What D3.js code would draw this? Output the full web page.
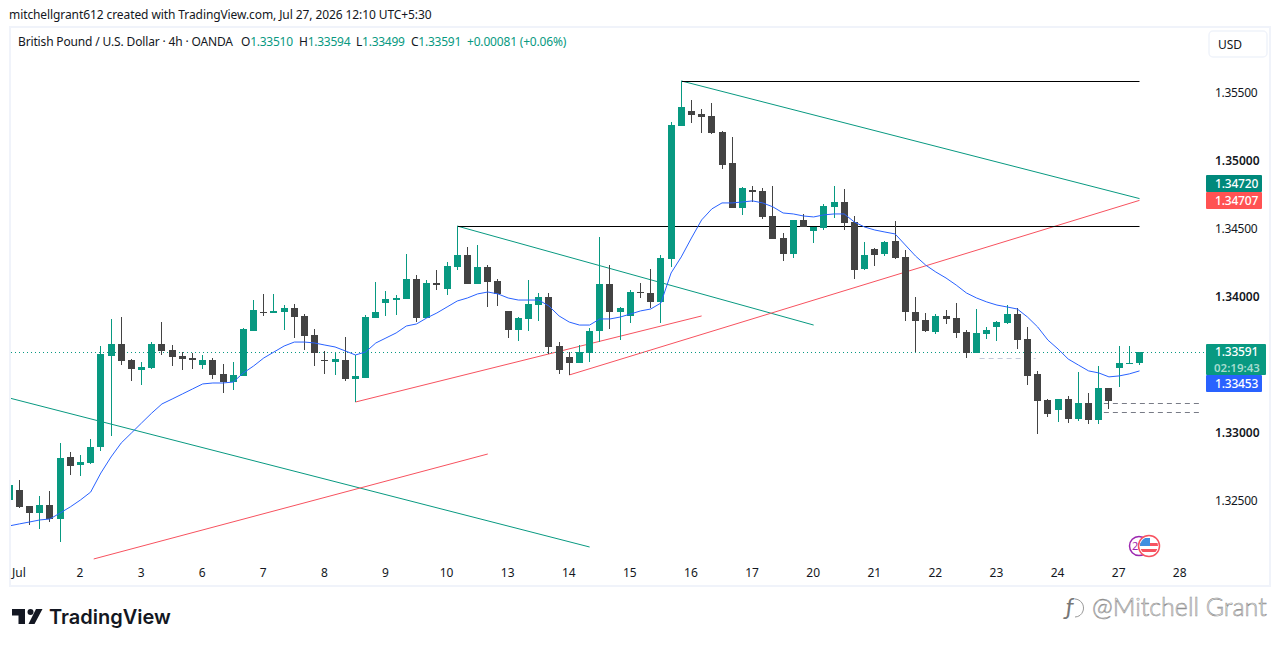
<!DOCTYPE html>
<html>
<head>
<meta charset="utf-8">
<script src="https://cdn.jsdelivr.net/npm/d3@7/dist/d3.min.js"></script>
<style>
  body { margin: 0; background: #fff; }
  text { font-family: "Noto Sans", sans-serif; }
</style>
</head>
<body>
<svg width="1281" height="647"></svg>
<script>
// GBPUSD 4h candles
var opens = [1.32504,1.32577,1.32459,1.32408,1.32467,1.32364,1.32820,1.32761,1.32775,1.32893,1.33563,1.33651,1.33533,1.33460,1.33474,1.33651,1.33607,1.33563,1.33548,1.33496,
  1.33533,1.33430,1.33371,1.33416,1.33746,1.33886,1.33879,1.33886,1.33915,1.33857,1.33717,1.33533,1.33518,1.33533,1.33394,1.33401,1.33842,1.33952,1.33974,1.33981,
  1.34129,1.33842,1.34099,1.34055,1.34217,1.34305,1.34092,1.34217,1.34114,1.33893,1.33754,1.33835,1.33937,1.33996,1.33636,1.33555,1.33511,1.33585,1.33746,1.34092,
  1.33886,1.33857,1.34033,1.34026,1.33959,1.34276,1.35254,1.35364,1.35342,1.35327,1.35209,1.34982,1.34650,1.34783,1.34776,1.34592,1.34430,1.34312,1.34563,1.34481,
  1.34503,1.34658,1.34695,1.34548,1.34202,1.34349,1.34312,1.34408,1.34290,1.33886,1.33827,1.33739,1.33857,1.33842,1.33739,1.33585,1.33724,1.33776,1.33805,1.33871,
  1.33687,1.33430,1.33239,1.33165,1.33246,1.33099,1.33217,1.33092,1.33327,1.33474,1.33504,1.33510];
var highs = [1.32614,1.32651,1.32459,1.32533,1.32570,1.32923,1.32856,1.32834,1.32952,1.33636,1.33835,1.33849,1.33540,1.33518,1.33665,1.33812,1.33643,1.33592,1.33585,1.33570,
  1.33548,1.33504,1.33518,1.33768,1.33974,1.34018,1.34018,1.33937,1.33945,1.33871,1.33761,1.33600,1.33592,1.33702,1.33570,1.33864,1.34107,1.34040,1.34011,1.34312,
  1.34158,1.34121,1.34195,1.34253,1.34518,1.34364,1.34379,1.34231,1.34129,1.33893,1.33849,1.34121,1.34026,1.34026,1.33665,1.33592,1.33643,1.33768,1.34437,1.34231,
  1.33923,1.34048,1.34099,1.34202,1.34305,1.35283,1.35585,1.35445,1.35379,1.35423,1.35217,1.35173,1.34805,1.34812,1.34798,1.34812,1.34467,1.34563,1.34606,1.34511,
  1.34680,1.34812,1.34790,1.34592,1.34401,1.34356,1.34408,1.34555,1.34342,1.33996,1.33879,1.33871,1.33901,1.33952,1.33754,1.33908,1.33776,1.33820,1.33937,1.33915,
  1.33776,1.33452,1.33246,1.33246,1.33268,1.33445,1.33290,1.33489,1.33327,1.33636,1.33636,1.33594];
var lows = [1.32504,1.32445,1.32320,1.32290,1.32342,1.32195,1.32687,1.32680,1.32768,1.32864,1.32974,1.33496,1.33379,1.33349,1.33467,1.33570,1.33489,1.33460,1.33467,1.33467,
  1.33394,1.33290,1.33312,1.33416,1.33746,1.33857,1.33879,1.33754,1.33695,1.33607,1.33489,1.33430,1.33423,1.33379,1.33224,1.33401,1.33842,1.33857,1.33864,1.33981,
  1.33812,1.33842,1.34048,1.34011,1.34195,1.34092,1.34092,1.33923,1.33930,1.33695,1.33673,1.33746,1.33820,1.33577,1.33430,1.33423,1.33511,1.33518,1.33665,1.33761,
  1.33680,1.33805,1.33989,1.33915,1.33805,1.34217,1.35254,1.35276,1.35202,1.35195,1.34937,1.34650,1.34599,1.34695,1.34570,1.34423,1.34261,1.34283,1.34511,1.34393,
  1.34489,1.34577,1.34489,1.34129,1.34195,1.34224,1.34298,1.34276,1.33820,1.33592,1.33739,1.33724,1.33798,1.33695,1.33548,1.33585,1.33687,1.33673,1.33798,1.33614,
  1.33349,1.32989,1.33114,1.33077,1.33070,1.33084,1.33062,1.33062,1.33173,1.33334,1.33504,1.33499];
var closes = [1.32614,1.32452,1.32408,1.32467,1.32364,1.32812,1.32753,1.32783,1.32893,1.33577,1.33651,1.33526,1.33467,1.33482,1.33651,1.33600,1.33555,1.33540,1.33533,1.33533,
  1.33423,1.33371,1.33423,1.33761,1.33901,1.33879,1.33893,1.33915,1.33849,1.33710,1.33585,1.33526,1.33540,1.33394,1.33416,1.33849,1.33886,1.33981,1.33989,1.34129,
  1.33842,1.34099,1.34085,1.34224,1.34305,1.34092,1.34217,1.34107,1.34018,1.33754,1.33842,1.33945,1.33996,1.33629,1.33460,1.33511,1.33592,1.33746,1.34092,1.33886,
  1.33915,1.34033,1.34026,1.33959,1.34283,1.35261,1.35393,1.35335,1.35320,1.35202,1.34967,1.34650,1.34798,1.34768,1.34585,1.34423,1.34312,1.34563,1.34511,1.34511,
  1.34665,1.34695,1.34540,1.34195,1.34305,1.34305,1.34401,1.34283,1.33886,1.33820,1.33746,1.33857,1.33835,1.33732,1.33585,1.33732,1.33754,1.33812,1.33871,1.33680,
  1.33416,1.33231,1.33136,1.33246,1.33099,1.33217,1.33092,1.33327,1.33231,1.33511,1.33511,1.33591];
// moving average, one value per bar
var maValues = [1.32313,1.32328,1.32342,1.32357,1.32364,1.32408,1.32453,1.32504,1.32562,1.32702,1.32820,1.32923,1.32996,1.33070,1.33143,1.33210,1.33246,1.33283,1.33320,1.33357,
  1.33364,1.33364,1.33371,1.33438,1.33489,1.33548,1.33592,1.33636,1.33665,1.33665,1.33658,1.33643,1.33629,1.33600,1.33570,1.33592,1.33658,1.33695,1.33732,1.33783,
  1.33798,1.33842,1.33879,1.33923,1.33967,1.33989,1.34019,1.34033,1.34019,1.33989,1.33974,1.33974,1.33974,1.33930,1.33857,1.33812,1.33790,1.33790,1.33835,1.33835,
  1.33849,1.33871,1.33894,1.33908,1.33952,1.34173,1.34291,1.34430,1.34563,1.34644,1.34688,1.34688,1.34695,1.34703,1.34688,1.34659,1.34614,1.34607,1.34592,1.34585,
  1.34600,1.34607,1.34607,1.34548,1.34511,1.34489,1.34474,1.34460,1.34379,1.34298,1.34231,1.34180,1.34136,1.34084,1.34026,1.33989,1.33960,1.33937,1.33923,1.33908,
  1.33849,1.33776,1.33680,1.33614,1.33540,1.33496,1.33453,1.33438,1.33409,1.33416,1.33431,1.33453];

var majorTicks = [1.33, 1.34, 1.35];
var priceShown = [1.325, 1.33, 1.34, 1.345, 1.35, 1.355];
var dayBars = [1, 7, 13, 19, 25, 31, 37, 43, 49, 55, 61, 67, 73, 79, 85, 91, 97, 103, 109, 115];
var dayLabels = ['Jul', '2', '3', '6', '7', '8', '9', '10', '13', '14', '15', '16', '17', '20', '21', '22', '23', '24', '27', '28'];

// drawings: [bar, price, bar, price]
var blackLines = [[66, 1.35585, 111, 1.35585], [44, 1.34518, 111, 1.34518]];
var tealLines = [[66, 1.35585, 111, 1.34720], [44, 1.34518, 79, 1.33790], [0, 1.33254, 57, 1.32158]];
var redLines = [[55, 1.33423, 111, 1.34707], [34, 1.33224, 68, 1.33857], [8.3, 1.32070, 47, 1.32842]];
var grayDashes = [[107.5, 1.33217, 117, 1.33217], [107.5, 1.33150, 117, 1.33150]];
var paleDashes = [[95.3, 1.33548, 100.8, 1.33548]];

var lastPrice = 1.33591, lastMa = 1.33453;
var greenCol = '#089981', darkCol = '#434343', blueCol = '#2962ff', redCol = '#f7525f';

var svg = d3.select('svg');
var x = d3.scaleLinear().domain([0, 111]).range([9.2, 1139.5]);
var y = d3.scaleLinear().domain([1.325, 1.355]).range([500.5, 92.5]);

svg.append('defs').append('clipPath').attr('id', 'plot')
  .append('rect').attr('x', 11).attr('y', 29).attr('width', 1194).attr('height', 555);

// pane frame
svg.append('rect').attr('x', 10).attr('y', 27).attr('width', 1260).attr('height', 559)
  .attr('fill', '#fff').attr('stroke', '#f0f3fa').attr('stroke-width', 2);

var plot = svg.append('g').attr('clip-path', 'url(#plot)');

function drawLines(data, color, dash, flat) {
  // flat lines are snapped to a pixel row so they stay sharp
  function py(p) { return flat ? Math.round(y(p)) + 0.5 : y(p); }
  plot.append('g').selectAll('line').data(data).enter().append('line')
    .attr('x1', function(d) { return x(d[0]); })
    .attr('y1', function(d) { return py(d[1]); })
    .attr('x2', function(d) { return x(d[2]); })
    .attr('y2', function(d) { return py(d[3]); })
    .attr('stroke', color)
    .attr('stroke-width', 1)
    .attr('stroke-dasharray', dash || null);
}

drawLines(tealLines, greenCol);
drawLines(redLines, redCol);
drawLines(blackLines, '#000', null, true);
drawLines(grayDashes, '#787b86', '5 4', true);
drawLines(paleDashes, '#c5cbdb', '5 4', true);

// last price dotted line
plot.append('line')
  .attr('x1', 11).attr('x2', 1205)
  .attr('y1', Math.round(y(lastPrice)) + 0.5).attr('y2', Math.round(y(lastPrice)) + 0.5)
  .attr('stroke', greenCol).attr('stroke-dasharray', '1 3')
  .attr('shape-rendering', 'crispEdges');

// candles
var bars = plot.append('g').selectAll('g').data(opens).enter().append('g')
  .attr('shape-rendering', 'crispEdges')
  .attr('fill', function(d, i) { return closes[i] >= d ? greenCol : darkCol; });

bars.append('rect')
  .attr('x', function(d, i) { return Math.floor(x(i)); })
  .attr('y', function(d, i) { return y(highs[i]); })
  .attr('width', 1)
  .attr('height', function(d, i) { return y(lows[i]) - y(highs[i]); });

bars.append('rect')
  .attr('x', function(d, i) { return Math.floor(x(i)) - 3; })
  .attr('y', function(d, i) { return y(Math.max(d, closes[i])); })
  .attr('width', 7)
  .attr('height', function(d, i) { return Math.max(1, Math.abs(y(d) - y(closes[i]))); });

var maLine = d3.line()
  .x(function(d, i) { return x(i); })
  .y(function(d) { return y(d); });

plot.append('path').datum(maValues)
  .attr('d', maLine)
  .attr('fill', 'none')
  .attr('stroke', blueCol)
  .attr('stroke-width', 1);

// price axis
var yAxis = d3.axisRight(y)
  .tickValues(priceShown)
  .tickFormat(d3.format('.5f'))
  .tickSize(0)
  .tickPadding(0);

var yG = svg.append('g').attr('transform', 'translate(1215,0)').call(yAxis);
yG.select('.domain').remove();
yG.selectAll('text')
  .attr('fill', '#131722')
  .style('font-size', '12px')
  .style('letter-spacing', function(d) { return majorTicks.indexOf(d) >= 0 ? '0' : '-0.3px'; })
  .style('font-weight', function(d) { return majorTicks.indexOf(d) >= 0 ? 600 : 400; });

// time axis
var xAxis = d3.axisBottom(x)
  .tickValues(dayBars)
  .tickFormat(function(d, i) { return dayLabels[i]; })
  .tickSize(0)
  .tickPadding(0);

var xG = svg.append('g').attr('transform', 'translate(-1,568)').call(xAxis);
xG.select('.domain').remove();
xG.selectAll('text').attr('fill', '#131722').style('font-size', '12px');

// price labels on the axis
function priceTag(p, top, h, w, color, base) {
  svg.append('rect').attr('x', 1206).attr('y', top).attr('width', w).attr('height', h)
    .attr('rx', 1).attr('fill', color);
  svg.append('text').attr('x', 1215).attr('y', base)
    .attr('fill', '#fff').style('font-size', '12px').style('font-weight', 500)
    .style('letter-spacing', '-0.2px')
    .text(d3.format('.5f')(p));
}
priceTag(1.34720, 175, 17, 56, '#00897b', 188);
priceTag(1.34707, 192, 17, 56, '#ff5252', 205);
priceTag(lastPrice, 344, 31, 60, greenCol, 356);
svg.append('text').attr('x', 1214).attr('y', 372)
  .attr('fill', '#a5dccf').style('font-size', '11.5px').style('font-weight', 600).text('02:19:43');
priceTag(lastMa, 375, 17, 56, blueCol, 388);

// currency box
svg.append('rect').attr('x', 1209).attr('y', 31).attr('width', 58).attr('height', 26)
  .attr('rx', 4).attr('fill', '#fff').attr('stroke', '#f0f3fa').attr('stroke-width', 1.5);
svg.append('text').attr('x', 1218).attr('y', 49).attr('fill', '#131722').style('font-size', '12px').text('USD');

// event markers
svg.append('circle').attr('cx', 1139).attr('cy', 546).attr('r', 9.5)
  .attr('fill', '#fff').attr('stroke', '#9c27b0').attr('stroke-width', 1.5);
svg.append('text').attr('x', 1132).attr('y', 550).attr('fill', '#9c27b0').style('font-size', '11px').text('2');
svg.append('clipPath').attr('id', 'flag').append('circle').attr('cx', 1149).attr('cy', 546).attr('r', 9);
svg.append('circle').attr('cx', 1149).attr('cy', 546).attr('r', 10.5)
  .attr('fill', '#fff').attr('stroke', '#f7525f').attr('stroke-width', 1.5);
var flag = svg.append('g').attr('clip-path', 'url(#flag)');
flag.append('rect').attr('x', 1140).attr('y', 537).attr('width', 18).attr('height', 18).attr('fill', '#fff');
flag.append('rect').attr('x', 1140).attr('y', 543).attr('width', 18).attr('height', 3).attr('fill', '#f7525f');
flag.append('rect').attr('x', 1140).attr('y', 549).attr('width', 18).attr('height', 3).attr('fill', '#f7525f');
flag.append('rect').attr('x', 1140).attr('y', 538).attr('width', 10).attr('height', 8).attr('fill', '#3f8fe0');

// header
svg.append('text').attr('x', 9).attr('y', 19).attr('fill', '#131722').style('font-size', '12px')
  .style('letter-spacing', '-0.09px')
  .text('mitchellgrant612 created with TradingView.com, Jul 27, 2026 12:10 UTC+5:30');

svg.append('text').attr('x', 18).attr('y', 46).attr('fill', '#131722').style('font-size', '12px')
  .style('letter-spacing', '-0.15px')
  .text('British Pound / U.S. Dollar \u00b7 4h \u00b7 OANDA');

var legendKeys = ['O', 'H', 'L', 'C'];
var legendVals = ['1.33510', '1.33594', '1.33499', '1.33591'];
var legendX = [241, 299, 356, 411];
var legendG = svg.append('g').selectAll('text').data(legendKeys).enter().append('text')
  .attr('x', function(d, i) { return legendX[i]; })
  .attr('y', 46)
  .attr('fill', '#131722')
  .style('font-size', '12px')
  .style('letter-spacing', '-0.25px')
  .text(function(d) { return d; });
legendG.append('tspan').attr('fill', greenCol)
  .text(function(d, i) { return legendVals[i]; });
svg.append('text').attr('x', 467).attr('y', 46).attr('fill', greenCol).style('font-size', '12px')
  .style('letter-spacing', '-0.18px')
  .text('+0.00081 (+0.06%)');

// footer logo
svg.append('path').attr('fill', '#131722')
  .attr('d', 'M12 609h13v15h-6.5v-8.5H12z M36 609h6.5l-8 15H28.5z');
svg.append('circle').attr('cx', 30.5).attr('cy', 612).attr('r', 3).attr('fill', '#131722');
svg.append('text').attr('x', 49).attr('y', 624).attr('fill', '#131722')
  .style('font-family', 'Inter, sans-serif').style('font-size', '20px').style('font-weight', 600)
  .text('TradingView');

// watermark, white letters with a thin grey edge
svg.append('text').attr('x', 1066).attr('y', 615).attr('fill', '#777')
  .style('font-family', 'Lato, sans-serif').style('font-size', '24px').style('font-style', 'italic').text('\u0192');
svg.append('path').attr('fill', 'none').attr('stroke', '#999').attr('stroke-width', 1)
  .attr('d', 'M1075 599a9 9 0 0 1 8 12a9 9 0 0 1 -8 6');
svg.append('text').attr('x', 1092).attr('y', 616).attr('fill', '#fff').attr('stroke', '#8f8f8f').attr('stroke-width', 0.6)
  .style('font-family', 'Lato, sans-serif').style('font-size', '25px').style('font-weight', 300)
  .text('@Mitchell Grant');
</script>
</body>
</html>
